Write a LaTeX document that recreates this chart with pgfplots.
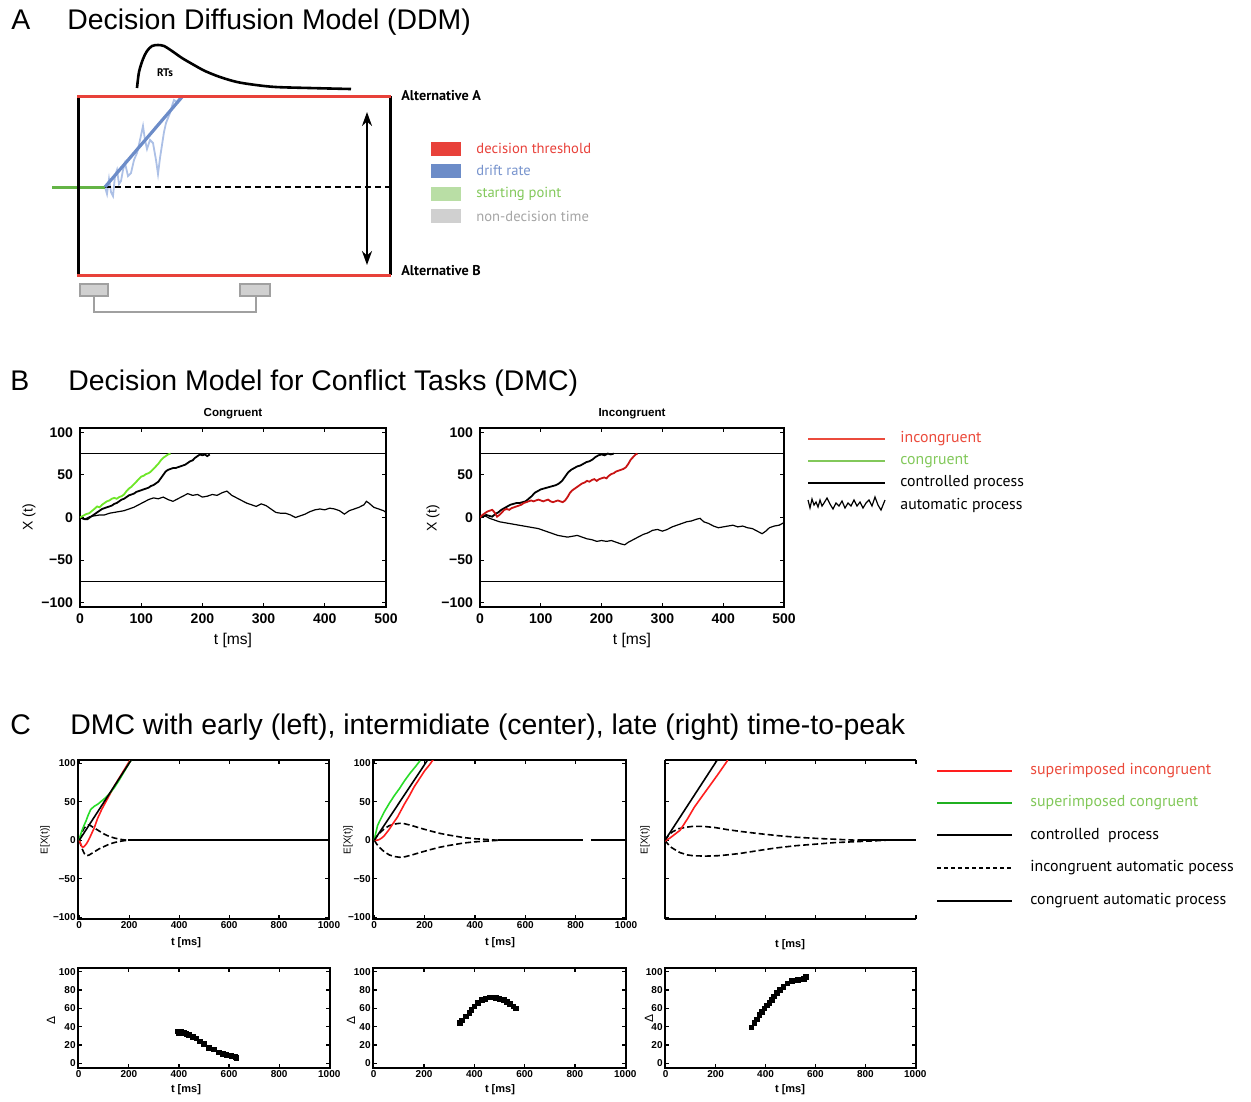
\documentclass[border=0pt]{standalone}
\usepackage{fontspec}
\setmainfont{Liberation Sans}
\newfontfamily\ptsans{PT Sans}
\usepackage{pgfplots}
\pgfplotsset{compat=1.18}
\usetikzlibrary{arrows.meta}
\newcommand\fs[1]{\fontsize{#1}{#1}\selectfont}
\definecolor{thr}{RGB}{232,65,58}
\definecolor{drift}{RGB}{108,140,200}
\definecolor{noise}{RGB}{172,192,230}
\definecolor{sp}{RGB}{100,180,70}
\definecolor{splight}{RGB}{185,222,165}
\definecolor{ndt}{RGB}{208,208,208}
\definecolor{ndtdark}{RGB}{160,160,160}
\definecolor{legblue}{RGB}{120,148,205}
\definecolor{leggray}{RGB}{165,165,165}
\definecolor{bgreen}{RGB}{110,230,40}
\definecolor{bred}{RGB}{200,20,20}
\definecolor{cred}{RGB}{255,30,30}
\definecolor{cgreen}{RGB}{40,220,40}
\definecolor{legred}{RGB}{235,75,60}
\definecolor{leggreen}{RGB}{130,200,90}
\pgfplotsset{
  panelB/.style={anchor=north west, scale only axis, height=89.5pt,
    xmin=0,xmax=500,ymin=-105,ymax=105,
    xtick={0,100,200,300,400,500}, xticklabels={0,100,200,300,400,500},
    ytick={-100,-50,0,50,100}, yticklabels={−100,−50,0,50,100},
    tick label style={font=\fs{7}\bfseries},
    major tick length=2pt, axis line style={line width=0.8pt},
    tick style={line width=0.6pt,black}},
  panelC/.style={anchor=north west, scale only axis, height=79.5pt,
    xmin=-5,xmax=1000,ymin=-102,ymax=104,
    xtick={0,200,400,600,800,1000}, xticklabels={0,200,400,600,800,1000},
    ytick={-100,-50,0,50,100}, yticklabels={−100,−50,0,50,100},
    tick label style={font=\fs{5}\bfseries, inner sep=1pt},
    major tick length=2pt, axis line style={line width=0.9pt},
    tick style={line width=0.6pt,black}},
  panelD/.style={anchor=north west, scale only axis, height=50pt,
    xmin=-3,xmax=1003,ymin=-5,ymax=104,
    xtick={0,200,400,600,800,1000}, xticklabels={0,200,400,600,800,1000},
    ytick={0,20,40,60,80,100}, yticklabels={0,20,40,60,80,100},
    tick label style={font=\fs{5}\bfseries, inner sep=1pt},
    major tick length=2pt, axis line style={line width=0.9pt},
    tick style={line width=0.6pt,black}},
  cline/.style={line width=0.8pt},
  cdash/.style={black, line width=0.8pt, dash pattern=on 3pt off 1.5pt},
}
\begin{document}
\begin{tikzpicture}
\path (0pt,0pt) rectangle (625.5pt,-549.5pt);
% ---------- overlay axis in pixel coordinates ----------
\begin{axis}[at={(0pt,0pt)}, anchor=north west, scale only axis,
  width=625.5pt, height=549.5pt, xmin=0, xmax=1251, ymin=0, ymax=1099,
  y dir=reverse, hide axis, clip=false]
% titles
\node[anchor=base west, inner sep=0pt, font=\fs{14.2}] at (axis cs:11,29) {A};
\node[anchor=base west, inner sep=0pt, font=\fs{14.2}] at (axis cs:67,29) {Decision Diffusion Model (DDM)};
\node[anchor=base west, inner sep=0pt, font=\fs{14.2}] at (axis cs:10,390) {B};
\node[anchor=base west, inner sep=0pt, font=\fs{14.2}] at (axis cs:68,390) {Decision Model for Conflict Tasks (DMC)};
\node[anchor=base west, inner sep=0pt, font=\fs{14.2}] at (axis cs:10,734) {C};
\node[anchor=base west, inner sep=0pt, font=\fs{14.2}] at (axis cs:70,734) {DMC with early (left), intermidiate (center), late (right) time-to-peak};
% ---------- panel A ----------
\addplot[noise, line width=0.9pt] coordinates {(105,187)(107,194)(109,179)(111,192)(113,196)(115,176)(117,170)(119,184)(121,181)(123,170)(125,163)(128,176)(131,173)(134,160)(137,153)(140,140)(143,126)(145,140)(147,149)(150,140)(153,143)(156,160)(158,174)(160,158)(162,145)(164,132)(166,123)(168,118)(170,113)(172,106)(174,100)(177,102)(180,97)};
\addplot[black, line width=1.3pt, dash pattern=on 3pt off 2pt] coordinates {(105,187)(390,187)};
\addplot[sp, line width=1.5pt] coordinates {(52,187)(105,187)};
\addplot[drift, line width=1.6pt] coordinates {(105,187)(182,97)};
\addplot[black, line width=1.5pt] coordinates {(78,96)(78,275)};
\addplot[black, line width=1.5pt] coordinates {(390,96)(390,275)};
\addplot[thr, line width=1.5pt] coordinates {(77,96)(391,96)};
\addplot[thr, line width=1.5pt] coordinates {(77,275)(391,275)};
\addplot[black, line width=1.3pt, smooth] coordinates {(137,88)(139,72)(143,59)(147,51)(152,46)(158,45)(164,46)(172,51)(182,58)(194,65)(205,71)(220,77)(237,82)(256,85)(276,87)(310,88)(351,89)};
\node[font=\ptsans\bfseries\fs{5.5}] at (axis cs:165,73) {RTs};
\addplot[black, line width=1.1pt, {Stealth[length=7pt,width=5pt]}-{Stealth[length=7pt,width=5pt]}] coordinates {(367,112)(367,265)};
\node[anchor=west, inner sep=0pt, font=\ptsans\bfseries\fs{7.1}] at (axis cs:401,96) {Alternative A};
\node[anchor=west, inner sep=0pt, font=\ptsans\bfseries\fs{7.1}] at (axis cs:401,271) {Alternative B};
\addplot[fill=ndt, draw=ndtdark, line width=0.8pt] coordinates {(80,284)(108,284)(108,296)(80,296)} -- cycle;
\addplot[fill=ndt, draw=ndtdark, line width=0.8pt] coordinates {(240,284)(270,284)(270,296)(240,296)} -- cycle;
\addplot[ndtdark, line width=1.2pt] coordinates {(94,296)(94,312)(256,312)(256,296)};
% legend A
\addplot[fill=thr, draw=none] coordinates {(431,142)(461,142)(461,156)(431,156)} -- cycle;
\addplot[fill=drift, draw=none] coordinates {(431,164)(461,164)(461,178)(431,178)} -- cycle;
\addplot[fill=splight, draw=none] coordinates {(431,187)(461,187)(461,201)(431,201)} -- cycle;
\addplot[fill=ndt, draw=none] coordinates {(431,209)(461,209)(461,223)(431,223)} -- cycle;
\node[anchor=west, inner sep=0pt, text=thr, font=\ptsans\fs{7.3}] at (axis cs:476,148) {decision threshold};
\node[anchor=west, inner sep=0pt, text=legblue, font=\ptsans\fs{7.3}] at (axis cs:476,170.5) {drift rate};
\node[anchor=west, inner sep=0pt, text=leggreen, font=\ptsans\fs{7.3}] at (axis cs:476,194) {starting point};
\node[anchor=west, inner sep=0pt, text=leggray, font=\ptsans\fs{7.3}] at (axis cs:476,216.5) {non-decision time};
% ---------- panel B labels ----------
\node[font=\bfseries\fs{5.8}] at (axis cs:233,414) {Congruent};
\node[font=\bfseries\fs{5.8}] at (axis cs:632,414) {Incongruent};
\node[rotate=90, font=\fs{7}] at (axis cs:29,517) {X (t)};
\node[rotate=90, font=\fs{7}] at (axis cs:433,518) {X (t)};
\node[font=\fs{7.8}] at (axis cs:233,640) {t [ms]};
\node[font=\fs{7.8}] at (axis cs:632,640) {t [ms]};
% legend B
\addplot[legred, line width=0.7pt] coordinates {(808,439)(885,439)};
\addplot[leggreen, line width=0.7pt] coordinates {(808,461)(885,461)};
\addplot[black, line width=0.7pt] coordinates {(808,483)(885,483)};
\addplot[black, line width=0.6pt] coordinates {(808,500)(810,508)(812,499)(814,505)(816,502)(818,507)(820,500)(822,506)(824,503)(827,498)(830,504)(833,509)(836,503)(839,506)(842,501)(845,508)(848,503)(851,506)(854,500)(857,506)(860,502)(863,508)(866,503)(869,500)(872,506)(875,497)(878,505)(881,510)(885,500)};
\node[anchor=west, inner sep=0pt, text=legred, font=\ptsans\fs{7.9}] at (axis cs:900,439) {incongruent};
\node[anchor=west, inner sep=0pt, text=leggreen, font=\ptsans\fs{7.9}] at (axis cs:900,461) {congruent};
\node[anchor=west, inner sep=0pt, font=\ptsans\fs{7.9}] at (axis cs:900,483) {controlled process};
\node[anchor=west, inner sep=0pt, font=\ptsans\fs{7.9}] at (axis cs:900,505) {automatic process};
% ---------- panel C labels ----------
\node[font=\bfseries\fs{5.5}] at (axis cs:186,943) {t [ms]};
\node[font=\bfseries\fs{5.5}] at (axis cs:500,943) {t [ms]};
\node[font=\bfseries\fs{5.5}] at (axis cs:790,945) {t [ms]};
\node[font=\bfseries\fs{5.5}] at (axis cs:186,1090) {t [ms]};
\node[font=\bfseries\fs{5.5}] at (axis cs:500,1090) {t [ms]};
\node[font=\bfseries\fs{5.5}] at (axis cs:790,1090) {t [ms]};
\node[rotate=90, font=\fs{5}] at (axis cs:45,840) {E[X(t)]};
\node[rotate=90, font=\fs{5}] at (axis cs:348,840) {E[X(t)]};
\node[rotate=90, font=\fs{5}] at (axis cs:645,840) {E[X(t)]};
\node[rotate=90, font=\fs{6}] at (axis cs:51,1020) {Δ};
\node[rotate=90, font=\fs{6}] at (axis cs:351,1020) {Δ};
\node[rotate=90, font=\fs{6}] at (axis cs:649,1018) {Δ};
% legend C
\addplot[cred, line width=0.7pt] coordinates {(937,771)(1012,771)};
\addplot[cgreen!80!black, line width=0.7pt] coordinates {(937,803)(1012,803)};
\addplot[black, line width=0.7pt] coordinates {(937,835)(1012,835)};
\addplot[black, line width=0.7pt, dash pattern=on 2.2pt off 1.3pt] coordinates {(937,868)(1012,868)};
\addplot[black, line width=0.7pt] coordinates {(937,901)(1012,901)};
\node[anchor=west, inner sep=0pt, text=legred, font=\ptsans\fs{7.95}] at (axis cs:1030,771) {superimposed incongruent};
\node[anchor=west, inner sep=0pt, text=leggreen, font=\ptsans\fs{7.95}] at (axis cs:1030,803) {superimposed congruent};
\node[anchor=west, inner sep=0pt, font=\ptsans\fs{7.95}] at (axis cs:1030,835) {controlled\ \ process};
\node[anchor=west, inner sep=0pt, font=\ptsans\fs{7.95}] at (axis cs:1030,868) {incongruent automatic pocess};
\node[anchor=west, inner sep=0pt, font=\ptsans\fs{7.95}] at (axis cs:1030,901) {congruent automatic process};
\end{axis}
% ---------- panel B: congruent ----------
\begin{axis}[panelB, at={(40pt,-214pt)}, width=153pt]
\addplot[black, line width=0.6pt] coordinates {(0,75)(500,75)};
\addplot[black, line width=0.6pt] coordinates {(0,-75)(500,-75)};
\addplot[black, line width=0.6pt] coordinates {(0,0)(8,-2)(16,1)(24,2)(32,3)(40,3)(48,5)(56,6)(64,7)(72,8)(80,10)(88,12)(96,15)(104,18)(112,21)(120,23)(128,22)(136,24)(144,21)(152,19)(160,22)(168,25)(176,28)(184,26)(192,27)(200,24)(208,25)(216,27)(224,26)(232,29)(240,31)(248,26)(256,23)(264,20)(272,17)(280,15)(288,13)(296,16)(304,14)(312,10)(320,6)(328,5)(336,5)(344,3)(352,0)(360,2)(368,4)(376,7)(384,9)(392,10)(400,9)(408,11)(416,10)(424,8)(432,4)(440,8)(448,10)(456,12)(464,15)(468,19)(472,17)(480,12)(488,10)(496,8)(500,6)};
\addplot[black, line width=0.9pt] coordinates {(0,0)(4,-1)(8,-2)(12,-2)(16,0)(20,2)(24,4)(28,6)(32,8)(36,10)(40,11)(44,12)(48,13)(52,14)(56,16)(60,17)(64,19)(68,21)(72,22)(76,24)(80,26)(84,27)(88,28)(92,30)(96,31)(100,32)(104,33)(108,34)(112,35)(116,37)(120,38)(124,40)(128,42)(132,46)(136,50)(140,54)(144,56)(148,57)(152,58)(156,58)(160,59)(164,60)(168,61)(172,62)(176,64)(180,66)(184,67)(188,70)(192,72)(196,74)(200,73)(204,74)(208,72)(212,74)};
\addplot[bgreen, line width=0.9pt] coordinates {(0,0)(5,2)(10,4)(15,5)(20,8)(25,11)(28,13)(32,12)(36,15)(40,17)(44,19)(48,20)(52,22)(56,23)(60,22)(64,24)(68,25)(72,27)(76,31)(80,34)(84,36)(88,39)(92,42)(96,45)(100,48)(104,49)(108,51)(112,52)(116,54)(120,57)(124,60)(128,63)(132,67)(136,70)(140,72)(144,74)(148,75)};
\end{axis}
% ---------- panel B: incongruent ----------
\begin{axis}[panelB, at={(240pt,-214pt)}, width=152pt]
\addplot[black, line width=0.6pt] coordinates {(0,75)(500,75)};
\addplot[black, line width=0.6pt] coordinates {(0,-75)(500,-75)};
\addplot[black, line width=0.6pt] coordinates {(0,0)(8,2)(16,-1)(24,-3)(32,-5)(40,-6)(48,-7)(56,-8)(64,-9)(72,-10)(80,-11)(88,-12)(96,-13)(104,-15)(112,-17)(120,-19)(128,-21)(136,-22)(144,-23)(152,-22)(160,-21)(168,-23)(176,-25)(184,-26)(192,-28)(200,-27)(208,-28)(216,-27)(224,-29)(232,-31)(238,-32)(244,-29)(252,-26)(260,-23)(268,-20)(276,-18)(284,-15)(292,-14)(300,-16)(308,-14)(316,-11)(324,-9)(332,-7)(340,-5)(348,-4)(356,-2)(362,-1)(368,-5)(376,-7)(384,-10)(392,-12)(400,-11)(408,-10)(416,-9)(424,-11)(432,-10)(440,-12)(448,-13)(456,-16)(464,-19)(470,-16)(476,-12)(484,-10)(492,-9)(500,-6)};
\addplot[black, line width=0.9pt] coordinates {(0,0)(5,1)(10,3)(15,2)(20,1)(25,4)(30,6)(35,9)(40,11)(45,13)(50,15)(55,16)(60,17)(65,17)(70,18)(75,19)(80,22)(85,25)(90,29)(95,31)(100,33)(105,34)(110,35)(115,36)(120,37)(125,38)(130,40)(135,43)(140,48)(145,53)(150,56)(155,58)(160,60)(165,61)(170,63)(175,65)(180,66)(185,68)(190,71)(195,73)(200,74)(205,73)(210,75)(215,74)(220,75)};
\addplot[bred, line width=0.9pt] coordinates {(0,0)(4,3)(8,5)(12,7)(16,8)(20,9)(24,6)(28,1)(32,3)(36,6)(40,9)(44,10)(48,9)(52,11)(56,12)(60,13)(64,14)(68,15)(72,17)(76,18)(80,19)(84,20)(88,19)(92,20)(96,21)(100,20)(104,19)(108,20)(112,21)(116,19)(120,18)(124,19)(128,20)(132,19)(136,18)(140,20)(144,24)(148,29)(152,32)(156,34)(160,36)(164,38)(168,40)(172,41)(176,43)(180,42)(184,44)(188,45)(192,43)(196,45)(200,46)(204,47)(208,46)(212,49)(216,51)(220,52)(224,54)(228,55)(232,56)(236,57)(240,59)(244,63)(248,68)(252,71)(256,74)(259,75)};
\end{axis}
% ---------- panel C top: early ----------
\begin{axis}[panelC, at={(39pt,-380pt)}, width=125.5pt]
\addplot[cdash] coordinates {(0,0)(10,10)(20,16)(30,19)(40,20)(50,18)(60,16)(80,12)(100,8)(120,5)(140,3)(160,1.5)(180,0.5)(195,0)};
\addplot[cdash] coordinates {(0,0)(10,-10)(20,-17)(30,-20)(40,-19)(50,-17)(60,-15)(80,-11)(100,-8)(120,-5)(140,-3)(160,-1.5)(180,-0.5)(195,0)};
\addplot[black, cline] coordinates {(195,0)(1000,0)};
\addplot[cred, cline] coordinates {(0,0)(5,-4)(10,-8)(15,-9)(20,-8)(30,-4)(40,2)(50,9)(60,16)(73,28)(90,40)(110,52)(140,70)(170,86)(200,102)(210,107)};
\addplot[cgreen, cline] coordinates {(0,0)(5,7)(10,12)(20,20)(27,25)(35,32)(46,40)(60,44)(75,47)(90,51)(105,55)(120,60)(140,68)(160,78)(180,89)(200,100)(210,105)};
\addplot[black, cline] coordinates {(0,0)(220,110)};
\end{axis}
% ---------- panel C top: intermediate ----------
\begin{axis}[panelC, at={(186.5pt,-380pt)}, width=126.5pt]
\addplot[cdash] coordinates {(0,0)(10,5)(20,9)(40,15)(60,19)(80,21)(100,22)(120,21.5)(150,19)(180,16)(224,12)(260,9)(300,6.5)(356,3.5)(400,2)(450,1)(490,0)};
\addplot[cdash] coordinates {(0,0)(10,-5)(20,-9)(40,-15)(60,-19)(80,-21)(100,-22)(120,-21.5)(150,-19)(180,-16)(224,-12)(260,-9)(300,-6.5)(356,-3.5)(400,-2)(450,-1)(490,0)};
\addplot[black, cline] coordinates {(490,0)(830,0)};
\addplot[black, cline] coordinates {(860,0)(1000,0)};
\addplot[cred, cline] coordinates {(0,0)(10,0)(20,1)(30,3)(40,6)(59,14)(75,22)(92,30)(120,47)(140,58)(158,69)(180,80)(200,90)(220,98)(235,105)};
\addplot[cgreen, cline] coordinates {(0,0)(5,8)(13,19)(20,24)(40,37)(60,48)(80,58)(100,67)(120,77)(140,86)(160,94)(182,103)};
\addplot[black, cline] coordinates {(0,0)(220,108)};
\end{axis}
% ---------- panel C top: late ----------
\begin{axis}[panelC, at={(332.5pt,-380pt)}, width=125.5pt, xmin=0,
  axis x line*=box, axis y line*=left, xticklabels={}, yticklabels={}]
\addplot[cdash] coordinates {(0,0)(15,7)(30,11)(54,15)(86,17)(110,18)(153,18)(200,16.5)(245,14)(300,11.5)(378,8.5)(450,6)(520,4)(600,2.5)(700,1)(770,0)};
\addplot[cdash] coordinates {(0,0)(19,-8)(39,-12)(60,-16)(90,-19)(113,-20)(160,-20.5)(210,-20)(245,-19)(300,-17)(378,-13)(440,-10)(521,-7)(600,-5)(676,-3)(780,-1.5)(880,0)};
\addplot[black, cline] coordinates {(770,0)(1000,0)};
\addplot[cred, cline] coordinates {(0,-1)(20,3)(40,8)(60,13)(90,28)(117,43)(150,58)(179,71)(210,85)(242,100)(250,104)};
\addplot[black, cline] coordinates {(0,0)(208,104)};
\end{axis}
% ---------- panel C bottom ----------
\begin{axis}[panelD, at={(39pt,-484pt)}, width=126pt]
\addplot[black, line width=0.8pt, mark=square*, mark size=1pt] coordinates {(395,35)(400,33)(410,34)(420,33)(430,32)(440,31)(455,29)(470,27)(485,24)(500,21)(520,17)(540,15)(560,12)(575,10)(590,9)(610,8)(625,7)(630,6)};
\end{axis}
\begin{axis}[panelD, at={(186.5pt,-484pt)}, width=126.5pt]
\addplot[black, line width=0.8pt, mark=square*, mark size=1pt] coordinates {(343,44)(350,47)(367,51)(380,55)(388,58)(400,62)(415,66)(430,69)(445,70)(462,72)(475,72)(486,71)(500,70)(517,69)(530,67)(541,65)(555,62)(565,60)};
\end{axis}
\begin{axis}[panelD, at={(332.5pt,-484pt)}, width=125.5pt]
\addplot[black, line width=0.8pt, mark=square*, mark size=1pt] coordinates {(343,39)(355,44)(365,48)(375,53)(385,56)(395,60)(405,63)(415,66)(425,69)(435,73)(445,77)(458,80)(472,83)(488,87)(505,90)(530,91)(555,92)(563,94)};
\end{axis}
\end{tikzpicture}
\end{document}
